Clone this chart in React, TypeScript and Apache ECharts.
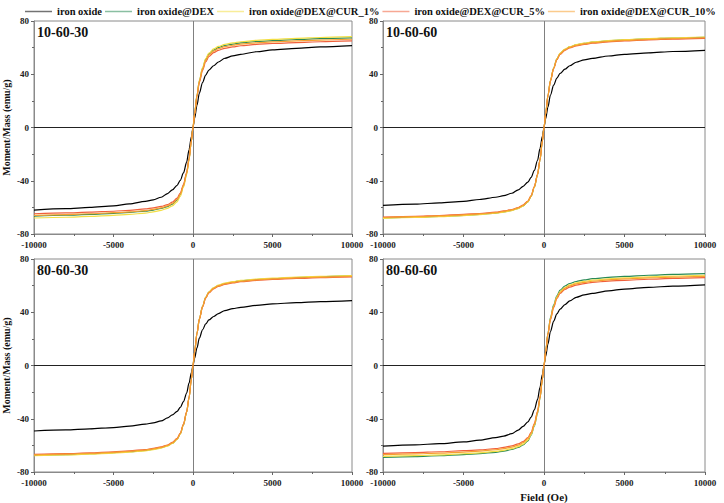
import React, { useEffect, useRef } from "react";
import * as echarts from "echarts";

const FIELD = [-10000, -8000, -6500, -5000, -4000, -3000, -2500, -2000, -1600, -1300, -1000, -800, -600, -400, -250, -100, 0, 100, 250, 400, 600, 800, 1000, 1300, 1600, 2000, 2500, 3000, 4000, 5000, 6500, 8000, 10000];

const SERIES_NAMES = [
  "iron oxide",
  "iron oxide@DEX",
  "iron oxide@DEX@CUR_1%",
  "iron oxide@DEX@CUR_5%",
  "iron oxide@DEX@CUR_10%",
];
const COLORS = ["#000000", "#2a8a55", "#f3df45", "#f0603c", "#f7a030"];

const PANEL_LABELS = ["10-60-30", "10-60-60", "80-60-30", "80-60-60"];

// 10-60-30
const TL_BLACK = [-62, -61, -60, -58.8, -57.4, -55.5, -54.3, -52.4, -49.6, -46.8, -43.4, -39.7, -34.1, -26, -16.7, -6.8, 0, 6.8, 16.6, 25.8, 33.8, 39.4, 43.1, 46.4, 49.2, 52, 53.8, 55, 56.9, 58.3, 59.5, 60.5, 61.5];
const TL_GREEN = [-66.5, -65.9, -65.3, -64.5, -63.8, -62.8, -62, -60.8, -59.4, -57.5, -54.5, -50.5, -43.9, -34.6, -23.9, -10, 0, 10.1, 24.2, 35, 44.4, 51.1, 55.2, 58.2, 60.1, 61.6, 62.7, 63.6, 64.6, 65.3, 66.1, 66.7, 67.3];
const TL_YELLOW = [-68, -67.4, -66.8, -66, -65.3, -64.3, -63.4, -62.2, -60.7, -58.8, -55.8, -51.7, -44.9, -35.4, -24.5, -10.2, 0, 10.2, 24.6, 35.5, 45, 51.8, 55.9, 59, 60.9, 62.4, 63.6, 64.4, 65.5, 66.2, 67, 67.6, 68.2];
const TL_RED = [-64.8, -64.2, -63.6, -62.9, -62.2, -61.2, -60.4, -59.3, -57.9, -56.1, -53.1, -49.2, -42.8, -33.7, -23.3, -9.7, 0, 9.8, 23.4, 33.8, 42.9, 49.4, 53.3, 56.2, 58, 59.5, 60.6, 61.4, 62.4, 63.1, 63.8, 64.4, 65];
const TL_ORANGE = [-66, -65.4, -64.8, -64, -63.4, -62.4, -61.5, -60.4, -58.9, -57.1, -54.1, -50.2, -43.6, -34.3, -23.8, -9.9, 0, 9.9, 23.9, 34.5, 43.8, 50.4, 54.4, 57.3, 59.2, 60.7, 61.8, 62.7, 63.6, 64.3, 65.1, 65.7, 66.3];

// 10-60-60
const TR_BLACK = [-58.5, -57.6, -56.6, -55.5, -54.1, -52.4, -51.2, -49.4, -46.8, -44.2, -41, -37.4, -32.2, -24.6, -15.8, -6.4, 0, 6.4, 15.7, 24.4, 31.9, 37.1, 40.6, 43.8, 46.4, 49, 50.8, 51.9, 53.7, 55, 56.1, 57.1, 58];
const TR_GREEN = [-68, -67.4, -66.8, -66, -65.3, -64.3, -63.4, -62.2, -60.7, -58.8, -55.8, -51.7, -44.9, -35.4, -24.5, -10.2, 0, 10.2, 24.4, 35.3, 44.7, 51.5, 55.6, 58.6, 60.5, 62, 63.2, 64.1, 65.1, 65.8, 66.6, 67.2, 67.8];
const TR_YELLOW = [-68.2, -67.6, -67, -66.2, -65.5, -64.4, -63.6, -62.4, -60.9, -59, -55.9, -51.8, -45, -35.5, -24.6, -10.2, 0, 10.2, 24.5, 35.4, 44.9, 51.7, 55.8, 58.8, 60.7, 62.2, 63.4, 64.3, 65.3, 66, 66.8, 67.4, 68];
const TR_RED = [-67.3, -66.7, -66.1, -65.3, -64.6, -63.6, -62.7, -61.6, -60.1, -58.2, -55.2, -51.1, -44.4, -35, -24.2, -10.1, 0, 10.1, 24.1, 34.8, 44.2, 50.9, 54.9, 58, 59.8, 61.3, 62.4, 63.3, 64.3, 65, 65.8, 66.4, 67];
const TR_ORANGE = [-67.6, -67, -66.4, -65.6, -64.9, -63.9, -63, -61.9, -60.4, -58.5, -55.4, -51.4, -44.6, -35.2, -24.3, -10.1, 0, 10.1, 24.3, 35, 44.5, 51.2, 55.3, 58.3, 60.2, 61.7, 62.8, 63.7, 64.7, 65.4, 66.2, 66.8, 67.4];

// 80-60-30
const BL_BLACK = [-49.2, -48.4, -47.6, -46.6, -45.5, -44, -43.1, -41.6, -39.4, -37.1, -34.4, -31.5, -27.1, -20.7, -13.3, -5.4, 0, 5.4, 13.2, 20.5, 26.8, 31.2, 34.2, 36.8, 39, 41.2, 42.7, 43.7, 45.1, 46.3, 47.2, 48, 48.8];
const BL_GREEN = [-67.5, -66.9, -66.3, -65.5, -64.8, -63.8, -62.9, -61.8, -60.3, -58.4, -55.4, -51.3, -44.6, -35.1, -24.3, -10.1, 0, 10.1, 24.2, 35, 44.4, 51.1, 55.2, 58.2, 60.1, 61.6, 62.7, 63.6, 64.6, 65.3, 66.1, 66.7, 67.3];
const BL_YELLOW = [-67.8, -67.2, -66.6, -65.8, -65.1, -64.1, -63.2, -62, -60.5, -58.6, -55.6, -51.5, -44.7, -35.3, -24.4, -10.2, 0, 10.1, 24.3, 35.2, 44.6, 51.4, 55.4, 58.5, 60.4, 61.9, 63, 63.9, 64.9, 65.6, 66.4, 67, 67.6];
const BL_RED = [-66.8, -66.2, -65.6, -64.8, -64.1, -63.1, -62.3, -61.1, -59.7, -57.8, -54.8, -50.8, -44.1, -34.7, -24, -10, 0, 10, 24, 34.6, 44, 50.6, 54.6, 57.6, 59.5, 60.9, 62.1, 62.9, 63.9, 64.6, 65.4, 66, 66.6];
const BL_ORANGE = [-67.2, -66.6, -66, -65.2, -64.5, -63.5, -62.6, -61.5, -60, -58.1, -55.1, -51.1, -44.4, -34.9, -24.2, -10.1, 0, 10.1, 24.1, 34.8, 44.2, 50.9, 54.9, 58, 59.8, 61.3, 62.4, 63.3, 64.3, 65, 65.8, 66.4, 67];

// 80-60-60
const BR_BLACK = [-60.6, -59.6, -58.7, -57.4, -56.1, -54.2, -53, -51.2, -48.5, -45.8, -42.4, -38.8, -33.3, -25.5, -16.4, -6.7, 0, 6.7, 16.4, 25.5, 33.3, 38.8, 42.4, 45.8, 48.5, 51.2, 53, 54.2, 56.1, 57.4, 58.7, 59.6, 60.6];
const BR_GREEN = [-69, -68.4, -67.8, -66.9, -66.2, -65.2, -64.3, -63.1, -61.6, -59.7, -56.6, -52.4, -45.5, -35.9, -24.8, -10.4, 0, 10.4, 24.8, 35.9, 45.5, 52.4, 56.6, 59.7, 61.6, 63.1, 64.3, 65.2, 66.2, 66.9, 67.8, 68.4, 69];
const BR_YELLOW = [-68.3, -67.7, -67.1, -66.3, -65.6, -64.5, -63.7, -62.5, -61, -59.1, -56, -51.9, -45.1, -35.5, -24.6, -10.2, 0, 10.2, 24.4, 35.3, 44.7, 51.5, 55.6, 58.6, 60.5, 62, 63.2, 64.1, 65.1, 65.8, 66.6, 67.2, 67.8];
const BR_RED = [-66, -65.4, -64.8, -64, -63.4, -62.4, -61.5, -60.4, -58.9, -57.1, -54.1, -50.2, -43.6, -34.3, -23.8, -9.9, 0, 9.9, 23.8, 34.3, 43.6, 50.2, 54.1, 57.1, 58.9, 60.4, 61.5, 62.4, 63.4, 64, 64.8, 65.4, 66];
const BR_ORANGE = [-67, -66.4, -65.8, -65, -64.3, -63.3, -62.4, -61.3, -59.8, -58, -54.9, -50.9, -44.2, -34.8, -24.1, -10.1, 0, 10.1, 24.1, 34.8, 44.2, 50.9, 54.9, 58, 59.8, 61.3, 62.4, 63.3, 64.3, 65, 65.8, 66.4, 67];

const PANELS = [
  [TL_BLACK, TL_GREEN, TL_YELLOW, TL_RED, TL_ORANGE],
  [TR_BLACK, TR_GREEN, TR_YELLOW, TR_RED, TR_ORANGE],
  [BL_BLACK, BL_GREEN, BL_YELLOW, BL_RED, BL_ORANGE],
  [BR_BLACK, BR_GREEN, BR_YELLOW, BR_RED, BR_ORANGE],
];

const X_TICKS = { min: -10000, max: 10000, interval: 5000 };
const Y_TICKS = { min: -80, max: 80, interval: 40 };

const FONT = "'Liberation Serif', 'Times New Roman', serif";

export default function App() {
  const ref = useRef<HTMLDivElement>(null);

  useEffect(() => {
    if (!ref.current) return;
    const chart = echarts.init(ref.current, undefined, { renderer: "svg" });

    const grids = [
      { left: 34, top: 21, width: 318, height: 213 },
      { left: 383, top: 21, width: 322, height: 213 },
      { left: 34, top: 259, width: 318, height: 213 },
      { left: 383, top: 259, width: 322, height: 213 },
    ];

    const labelStyle = {
      fontFamily: FONT,
      fontWeight: "bold" as const,
      fontSize: 9,
      color: "#222",
    };

    const xAxes = grids.map((_, i) => ({
      type: "value" as const,
      gridIndex: i,
      ...X_TICKS,
      axisLine: { show: true, onZero: false, lineStyle: { color: "#8a8a8a", width: 1 } },
      axisTick: { show: true, length: 3, lineStyle: { color: "#666" } },
      minorTick: { show: true, splitNumber: 2, length: 2, lineStyle: { color: "#666" } },
      splitLine: { show: false },
      axisLabel: { ...labelStyle, margin: 6, formatter: (v: number) => String(v) },
      name: i === 3 ? "Field (Oe)" : "",
      nameLocation: "middle" as const,
      nameGap: 19,
      nameTextStyle: { fontFamily: FONT, fontWeight: "bold" as const, fontSize: 11, color: "#111" },
    }));

    const yAxes = grids.map((_, i) => ({
      type: "value" as const,
      gridIndex: i,
      ...Y_TICKS,
      axisLine: { show: true, onZero: false, lineStyle: { color: "#8a8a8a", width: 1 } },
      axisTick: { show: true, length: 3, lineStyle: { color: "#666" } },
      minorTick: { show: true, splitNumber: 2, length: 2, lineStyle: { color: "#666" } },
      splitLine: { show: false },
      axisLabel: { ...labelStyle, margin: 5, formatter: (v: number) => String(v) },
      name: i % 2 === 0 ? "Moment/Mass (emu/g)" : "",
      nameLocation: "middle" as const,
      nameGap: 23,
      nameTextStyle: { fontFamily: FONT, fontWeight: "bold" as const, fontSize: 10, color: "#111" },
    }));

    const series: any[] = [];
    PANELS.forEach((panel, p) => {
      panel.forEach((vals, s) => {
        series.push({
          name: SERIES_NAMES[s],
          type: "line",
          xAxisIndex: p,
          yAxisIndex: p,
          data: FIELD.map((h, k) => [h, vals[k]]),
          smooth: 0.3,
          smoothMonotone: "x",
          symbol: "none",
          showSymbol: false,
          lineStyle: { width: 1.2, color: COLORS[s] },
          itemStyle: { color: COLORS[s] },
          z: 3 + s,
          markLine:
            s === 0
              ? {
                  silent: true,
                  symbol: ["none", "none"],
                  label: { show: false },
                  animation: false,
                  data: [
                    { xAxis: 0, lineStyle: { color: "#808080", width: 1, type: "solid" } },
                    { yAxis: 0, lineStyle: { color: "#222", width: 1, type: "solid" } },
                  ],
                }
              : undefined,
        });
      });
    });

    const titles = PANEL_LABELS.map((t, i) => ({
      text: t,
      left: grids[i].left + 3,
      top: grids[i].top + 4,
      padding: 0,
      textStyle: { fontFamily: FONT, fontWeight: "bold" as const, fontSize: 14, color: "#111" },
    }));

    chart.setOption({
      animation: false,
      backgroundColor: "#ffffff",
      title: titles,
      legend: {
        data: SERIES_NAMES,
        left: 25,
        top: 6,
        icon: "rect",
        itemWidth: 27,
        itemHeight: 1.5,
        itemGap: 3,
        padding: 0,
        itemStyle: { opacity: 0.55 },
        textStyle: { fontFamily: FONT, fontWeight: "bold", fontSize: 10.5, color: "#111" },
      },
      grid: grids.map((g) => ({ ...g, show: true, borderColor: "#8a8a8a", borderWidth: 1, backgroundColor: "transparent" })),
      xAxis: xAxes,
      yAxis: yAxes,
      series,
    });

    return () => chart.dispose();
  }, []);

  return (
    <div
      ref={ref}
      style={{ position: "fixed", left: 0, top: 0, width: 724, height: 503, background: "#fff" }}
    />
  );
}
